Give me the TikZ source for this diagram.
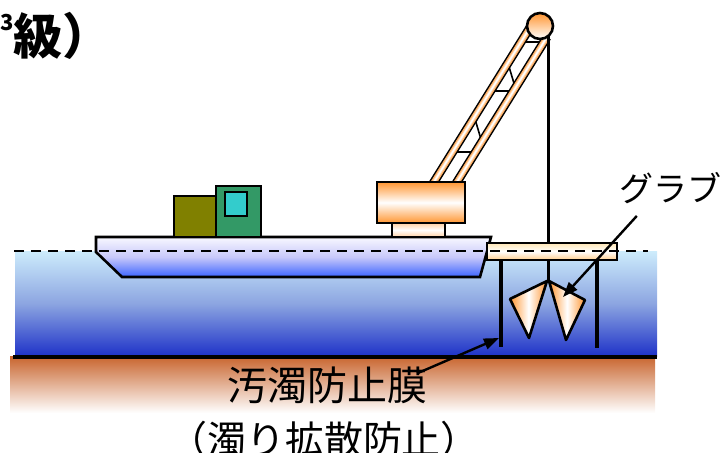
\documentclass[tikz,border=0pt]{standalone}
\usepackage{fontspec}
\setmainfont{Noto Sans CJK JP}
\usetikzlibrary{arrows.meta}

\definecolor{seatop}{RGB}{205,236,252}
\definecolor{seamid}{RGB}{140,165,225}
\definecolor{seabottom}{RGB}{30,50,200}
\definecolor{seabed}{RGB}{200,100,45}
\definecolor{hulltop}{RGB}{248,248,255}
\definecolor{hullmid}{RGB}{200,200,250}
\definecolor{hullbottom}{RGB}{60,100,255}
\definecolor{craneorange}{RGB}{255,150,50}
\definecolor{decktop}{RGB}{255,230,180}
\definecolor{deckbottom}{RGB}{255,205,140}
\definecolor{cargo}{RGB}{128,128,0}
\definecolor{cabgreen}{RGB}{51,153,102}
\definecolor{windowcyan}{RGB}{51,204,204}

\begin{document}
\begin{tikzpicture}[x=1pt, y=-1pt,
    outline/.style={draw=black, line width=2.6pt},
    pointer/.style={-{Triangle[length=15pt,width=11pt]}, line width=2.4pt},
    post/.style={line width=4.5pt},
    boombar/.style={line width=6pt, draw=craneorange!75,
        preaction={draw=black, line width=9pt},
        postaction={draw=craneorange!35, line width=3.5pt},
        postaction={draw=white, line width=1.5pt}},
    jptext/.style={inner sep=0pt, font=\fontsize{40pt}{40pt}\selectfont}]

    \useasboundingbox (0,0) rectangle (724,453);

    % water and sea bed
    \shade [top color=seatop, bottom color=seabottom, middle color=seamid] (15,251) rectangle (657,356);
    \shade [top color=seabed, bottom color=white] (10,356) rectangle (655,413);
    \draw [line width=4pt] (13,357) -- (657,357);

    % barge
    \draw [outline, top color=hulltop, bottom color=hullbottom, middle color=hullmid]
        (96,237) -- (491,237) -- (480,277) -- (122,277) -- (96,252) -- cycle;
    \draw [outline, fill=cargo] (174,196) rectangle (216,237);
    \draw [outline, fill=cabgreen] (216,186) rectangle (261,237);
    \draw [outline, fill=windowcyan] (225,192) rectangle (247,216);

    % boom with lattice
    \draw [line width=1.6pt] (452.6,152) -- (475.6,152) (474.4,117) -- (481.8,142)
        (490.5,91) -- (513.5,91) (507.9,63) -- (515.4,88) (520.9,42) -- (543.9,42);
    \draw [boombar] (429,190) -- (529.7,28);
    \draw [boombar] (452,190) -- (547,37);

    \draw [outline, top color=craneorange!45, bottom color=craneorange!45, middle color=white] (392,223) rectangle (445,237);
    \draw [outline, top color=craneorange, bottom color=craneorange, middle color=white] (377,182) rectangle (465,223);

    \draw [outline, top color=craneorange, bottom color=white] (540,26) circle (13);
    \coordinate (pulley) at (548,36);
    \coordinate (grabtop) at (548,281);
    \draw [line width=3pt] (pulley) -- (grabtop);

    % working deck
    \draw [outline, top color=decktop, bottom color=deckbottom, middle color=white] (487,243) rectangle (617,260);
    \draw [line width=2.6pt, dash pattern=on 10pt off 7pt] (14,251) -- (648,251);

    % silt curtain
    \draw [post] (501,260) -- (501,347);
    \draw [post] (597,260) -- (597,348);

    % grab bucket
    \draw [outline, line join=round, left color=craneorange, right color=craneorange, middle color=white]
        (510,299) -- (547,281) -- (529,338) -- cycle;
    \draw [outline, line join=round, left color=craneorange, right color=craneorange, middle color=white]
        (549,281) -- (585,300) -- (566,340) -- cycle;

    % labels
    \node [jptext, font=\fontsize{34pt}{34pt}\selectfont] (grablabel) at (670,188) {グラブ};
    \coordinate (grabtip) at (563,297);
    \draw [pointer] ([xshift=18pt,yshift=-12pt]grablabel.south west) -- (grabtip);

    \node [jptext] (fencelabel) at (327,385) {汚濁防止膜};
    \node [jptext, font=\fontsize{39pt}{39pt}\selectfont] (fencenote) at (324,440) {（濁り拡散防止）};
    \coordinate (fencetip) at (499,338);
    \draw [pointer] ([xshift=-10pt,yshift=-7pt]fencelabel.north east) -- (fencetip);

    \node [inner sep=0pt, anchor=base west, font=\bfseries\fontsize{49pt}{49pt}\selectfont] (title) at (0,54)
        {\raisebox{24pt}{\fontsize{22pt}{22pt}\selectfont 3}級）};

\end{tikzpicture}
\end{document}
